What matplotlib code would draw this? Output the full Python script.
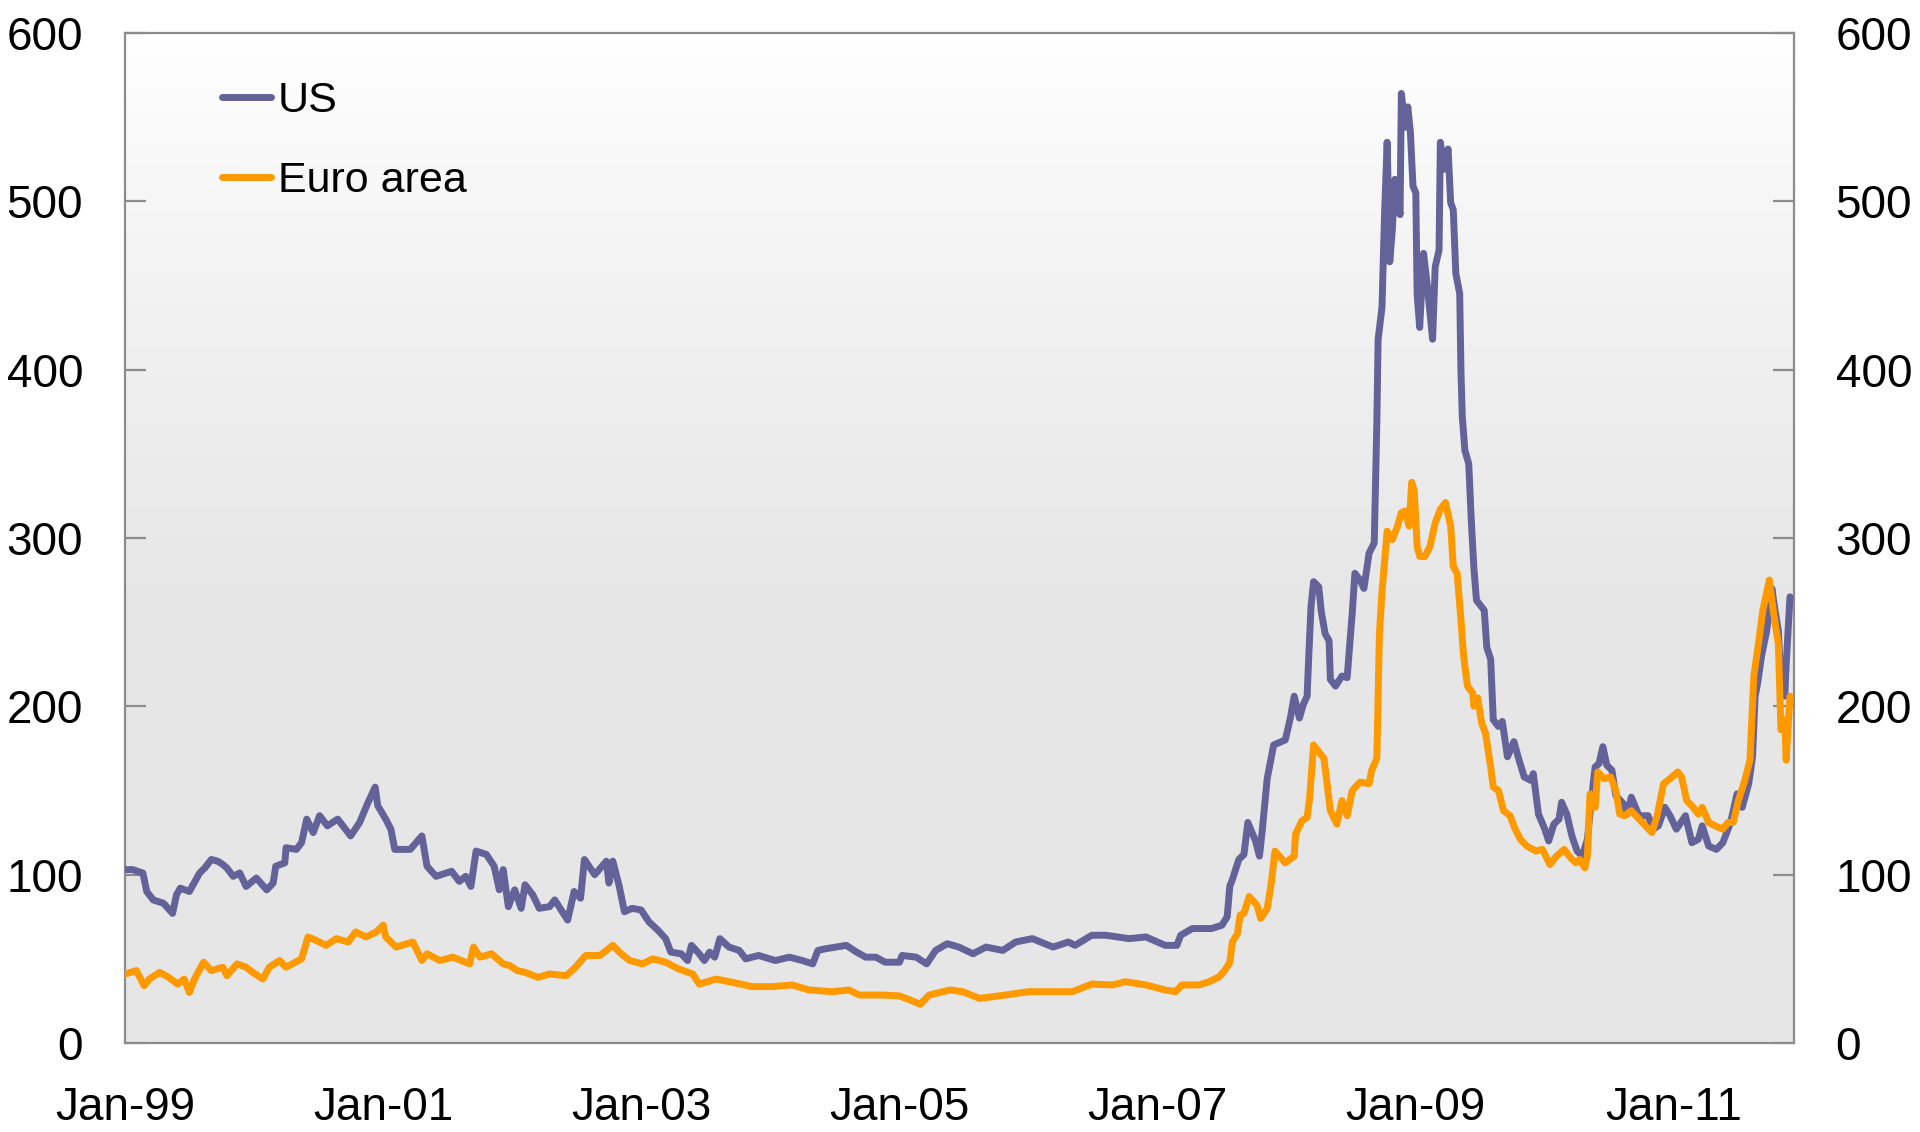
import numpy as np
import pandas as pd
import matplotlib
matplotlib.use('Agg')
import matplotlib.pyplot as plt
import matplotlib.dates as mdates

plt.rcParams['font.family'] = ['Liberation Sans', 'DejaVu Sans']

# values (decimal year, level)
us_years = [
    1999.00, 1999.06, 1999.14, 1999.17, 1999.22, 1999.30, 1999.37, 1999.40, 1999.43, 1999.50,
    1999.58, 1999.62, 1999.67, 1999.72, 1999.76, 1999.79, 1999.84, 1999.89, 1999.94, 2000.02,
    2000.10, 2000.15, 2000.17, 2000.24, 2000.25, 2000.33, 2000.37, 2000.41, 2000.46, 2000.51,
    2000.57, 2000.65, 2000.75, 2000.82, 2000.88, 2000.94, 2000.96, 2001.02, 2001.06, 2001.09,
    2001.21, 2001.30, 2001.34, 2001.41, 2001.53, 2001.59, 2001.64, 2001.68, 2001.72, 2001.80,
    2001.86, 2001.90, 2001.93, 2001.97, 2002.02, 2002.07, 2002.10, 2002.16, 2002.21, 2002.29,
    2002.33, 2002.43, 2002.48, 2002.53, 2002.56, 2002.64, 2002.73, 2002.75, 2002.78, 2002.83,
    2002.87, 2002.93, 2003.00, 2003.06, 2003.13, 2003.19, 2003.23, 2003.31, 2003.36, 2003.39,
    2003.45, 2003.49, 2003.53, 2003.57, 2003.61, 2003.68, 2003.76, 2003.81, 2003.91, 2004.04,
    2004.15, 2004.25, 2004.33, 2004.37, 2004.43, 2004.51, 2004.59, 2004.67, 2004.74, 2004.82,
    2004.89, 2005.00, 2005.02, 2005.13, 2005.21, 2005.28, 2005.37, 2005.46, 2005.57, 2005.67,
    2005.80, 2005.90, 2006.03, 2006.19, 2006.31, 2006.36, 2006.49, 2006.60, 2006.78, 2006.91,
    2007.06, 2007.15, 2007.18, 2007.27, 2007.42, 2007.50, 2007.54, 2007.56, 2007.58, 2007.63,
    2007.67, 2007.70, 2007.76, 2007.79, 2007.81, 2007.85, 2007.90, 2007.99, 2008.03, 2008.06,
    2008.10, 2008.13, 2008.16, 2008.17, 2008.19, 2008.21, 2008.25, 2008.27, 2008.30, 2008.33,
    2008.34, 2008.38, 2008.43, 2008.47, 2008.50, 2008.51, 2008.53, 2008.57, 2008.60, 2008.64,
    2008.68, 2008.70, 2008.71, 2008.74, 2008.76, 2008.78, 2008.80, 2008.82, 2008.84, 2008.88,
    2008.89, 2008.92, 2008.94, 2008.96, 2008.98, 2009.00, 2009.01, 2009.03, 2009.06, 2009.09,
    2009.13, 2009.15, 2009.18, 2009.19, 2009.22, 2009.25, 2009.27, 2009.29, 2009.31, 2009.34,
    2009.35, 2009.36, 2009.38, 2009.41, 2009.43, 2009.45, 2009.47, 2009.53, 2009.55, 2009.58,
    2009.60, 2009.64, 2009.67, 2009.71, 2009.76, 2009.80, 2009.84, 2009.89, 2009.91, 2009.95,
    2010.00, 2010.03, 2010.07, 2010.11, 2010.13, 2010.17, 2010.21, 2010.25, 2010.29, 2010.33,
    2010.36, 2010.39, 2010.42, 2010.45, 2010.48, 2010.52, 2010.55, 2010.61, 2010.64, 2010.67,
    2010.73, 2010.80, 2010.84, 2010.88, 2010.93, 2010.97, 2011.02, 2011.09, 2011.14, 2011.19,
    2011.22, 2011.27, 2011.33, 2011.38, 2011.44, 2011.49, 2011.53, 2011.58, 2011.61, 2011.63,
    2011.65, 2011.68, 2011.72, 2011.76, 2011.78, 2011.81, 2011.83, 2011.86, 2011.87, 2011.90,
]
us_values = [
    103, 103, 101, 90, 85, 83, 77, 88, 92, 90,
    101, 104, 109, 108, 106, 104, 99, 101, 93, 98,
    91, 95, 105, 107, 116, 115, 119, 133, 125, 135,
    129, 133, 123, 131, 142, 152, 141, 133, 127, 115,
    115, 123, 105, 99, 102, 96, 99, 93, 114, 112,
    105, 91, 103, 81, 91, 80, 94, 88, 80, 81,
    85, 73, 90, 86, 109, 100, 108, 95, 108, 93,
    78, 80, 79, 72, 67, 62, 54, 53, 49, 58,
    53, 49, 54, 51, 62, 57, 55, 50, 52, 49,
    51, 49, 47, 55, 56, 57, 58, 54, 51, 51,
    48, 48, 52, 51, 47, 55, 59, 57, 53, 57,
    55, 60, 62, 57, 60, 58, 64, 64, 62, 63,
    58, 58, 64, 68, 68, 70, 75, 93, 97, 109,
    112, 131, 120, 111, 125, 157, 177, 180, 193, 206,
    193, 201, 206, 225, 259, 274, 271, 256, 243, 239,
    216, 212, 218, 217, 246, 256, 279, 275, 270, 291,
    297, 368, 418, 437, 493, 535, 464, 483, 513, 492,
    564, 544, 556, 541, 509, 505, 445, 425, 469, 449,
    418, 461, 471, 535, 519, 531, 499, 495, 457, 445,
    398, 372, 352, 344, 310, 282, 263, 257, 235, 228,
    192, 188, 191, 170, 179, 168, 158, 156, 160, 136,
    127, 120, 130, 133, 143, 136, 123, 114, 111, 121,
    144, 164, 166, 176, 165, 162, 147, 142, 136, 146,
    135, 135, 127, 129, 140, 135, 127, 135, 119, 121,
    129, 117, 115, 119, 131, 148, 140, 154, 170, 206,
    214, 230, 245, 270, 259, 245, 214, 206, 224, 265,
]

euro_years = [
    1999.00, 1999.09, 1999.15, 1999.19, 1999.27, 1999.34, 1999.41, 1999.46, 1999.50, 1999.54,
    1999.61, 1999.67, 1999.76, 1999.79, 1999.87, 1999.94, 1999.99, 2000.07, 2000.12, 2000.20,
    2000.25, 2000.37, 2000.42, 2000.48, 2000.56, 2000.64, 2000.73, 2000.79, 2000.87, 2000.95,
    2001.00, 2001.02, 2001.10, 2001.23, 2001.30, 2001.34, 2001.44, 2001.54, 2001.67, 2001.70,
    2001.75, 2001.84, 2001.93, 2001.98, 2002.04, 2002.10, 2002.20, 2002.29, 2002.42, 2002.49,
    2002.57, 2002.68, 2002.78, 2002.83, 2002.91, 2003.01, 2003.09, 2003.19, 2003.29, 2003.40,
    2003.45, 2003.58, 2003.71, 2003.86, 2004.02, 2004.17, 2004.30, 2004.48, 2004.61, 2004.69,
    2004.87, 2005.00, 2005.10, 2005.16, 2005.23, 2005.39, 2005.49, 2005.62, 2005.82, 2006.00,
    2006.19, 2006.34, 2006.49, 2006.65, 2006.75, 2006.91, 2007.06, 2007.14, 2007.19, 2007.32,
    2007.40, 2007.48, 2007.52, 2007.56, 2007.58, 2007.62, 2007.64, 2007.67, 2007.71, 2007.77,
    2007.80, 2007.85, 2007.88, 2007.91, 2007.99, 2008.06, 2008.07, 2008.12, 2008.16, 2008.18,
    2008.21, 2008.25, 2008.29, 2008.31, 2008.34, 2008.39, 2008.43, 2008.47, 2008.51, 2008.57,
    2008.64, 2008.66, 2008.70, 2008.72, 2008.74, 2008.78, 2008.82, 2008.86, 2008.89, 2008.92,
    2008.95, 2008.97, 2008.99, 2009.01, 2009.03, 2009.07, 2009.11, 2009.15, 2009.19, 2009.23,
    2009.27, 2009.29, 2009.32, 2009.35, 2009.37, 2009.40, 2009.44, 2009.45, 2009.48, 2009.51,
    2009.54, 2009.58, 2009.60, 2009.64, 2009.68, 2009.73, 2009.77, 2009.81, 2009.86, 2009.93,
    2009.98, 2010.04, 2010.09, 2010.15, 2010.20, 2010.24, 2010.27, 2010.31, 2010.33, 2010.35,
    2010.39, 2010.41, 2010.46, 2010.51, 2010.55, 2010.58, 2010.62, 2010.67, 2010.73, 2010.78,
    2010.83, 2010.87, 2010.92, 2010.97, 2011.03, 2011.06, 2011.10, 2011.15, 2011.19, 2011.22,
    2011.27, 2011.32, 2011.38, 2011.42, 2011.46, 2011.50, 2011.55, 2011.59, 2011.62, 2011.65,
    2011.69, 2011.74, 2011.77, 2011.81, 2011.83, 2011.86, 2011.87, 2011.90,
]
euro_values = [
    41, 43, 34, 38, 42, 39, 35, 38, 30, 38,
    48, 43, 45, 40, 47, 45, 42, 38, 45, 49,
    45, 50, 63, 61, 58, 62, 60, 66, 63, 66,
    70, 63, 57, 60, 49, 53, 49, 51, 47, 57,
    51, 53, 47, 46, 43, 42, 39, 41, 40, 45,
    52, 52, 58, 54, 49, 47, 50, 48, 44, 41,
    35, 38, 36, 33.5, 33.5, 34.5, 31.5, 30.5, 31.5, 28.5,
    28.5, 28, 25, 23, 28.5, 31.5, 30.5, 26.5, 28.5, 30.5,
    30.5, 30.5, 35, 34.5, 36.4, 34.5, 31.5, 30.5, 34.5, 34.5,
    36.4, 39.4, 43, 47.8, 60, 65, 76, 77, 87, 82,
    74, 80, 94, 114, 107, 111, 124, 132, 134, 146,
    177, 173, 169, 157, 138, 130, 144, 135, 150, 155,
    154, 162, 169, 243, 268, 304, 299, 307, 315, 316,
    307, 333, 328, 295, 289, 289, 295, 309, 317, 321,
    307, 283, 279, 251, 230, 212, 208, 200, 205, 190,
    184, 164, 152, 150, 138, 135, 127, 121, 117, 114,
    115, 106, 111, 115, 110, 107, 109, 104, 111, 148,
    140, 161, 157, 158, 150, 136, 135, 138, 133, 129,
    125, 135, 154, 157, 161, 158, 144, 140, 136, 140,
    131, 129, 127, 131, 131, 144, 156, 168, 218, 234,
    257, 275, 257, 237, 186, 192, 168, 206,
]

tick_years = [1999, 2001, 2003, 2005, 2007, 2009, 2011]


def to_dates(years):
    # decimal year -> timestamp
    years = np.asarray(years, dtype=float)
    whole = years.astype(int)
    starts = pd.to_datetime([f'{y}-01-01' for y in whole])
    return starts + pd.to_timedelta((years - whole) * 365.25, unit='D')


us_dates = to_dates(us_years)
euro_dates = to_dates(euro_years)

fig = plt.figure(figsize=(19.2, 11.32), dpi=100)
ax = fig.add_axes([0.065, 0.0786, 0.8693, 0.8924])

# background: white at the top fading into light grey
grad = np.linspace(0, 1, 256)
shade = 1.0 - 0.098 * np.clip(grad / 0.55, 0, 1) ** 0.8
ax.imshow(shade[:, None], cmap='gray', vmin=0, vmax=1, aspect='auto', origin='upper',
          extent=[0, 1, 0, 1], transform=ax.transAxes, zorder=0)

ax.plot(us_dates, us_values, color='#63639A', lw=5, label='US', zorder=3,
        solid_joinstyle='round', solid_capstyle='round')
ax.plot(euro_dates, euro_values, color='#FF9900', lw=5, label='Euro area', zorder=4,
        solid_joinstyle='round', solid_capstyle='round')

ax.set_ylim(0, 600)
ax.set_yticks(range(0, 601, 100))
ax.set_xlim(pd.Timestamp('1999-01-01'), to_dates([2011.93])[0])
ax.set_xticks(pd.to_datetime([f'{y}-01-01' for y in tick_years]))
ax.xaxis.set_major_formatter(mdates.DateFormatter('%b-%y'))

for s in ax.spines.values():
    s.set_color('#8C8C8C')
    s.set_linewidth(1.6)

ax.tick_params(axis='y', which='both', direction='in', length=15, width=1.6,
               color='#8C8C8C', left=True, right=True, labelleft=True,
               labelright=True, labelsize=33, pad=30)
ax.tick_params(axis='x', length=0, labelsize=33, pad=31)

leg = ax.legend(loc='upper left', bbox_to_anchor=(0.058, 0.952), frameon=False,
                fontsize=31, handlelength=1.15, handletextpad=0.15,
                labelspacing=0.92, borderpad=0, borderaxespad=0)
for line in leg.get_lines():
    line.set_linewidth(5)

fig.savefig('out.png', dpi=100)
